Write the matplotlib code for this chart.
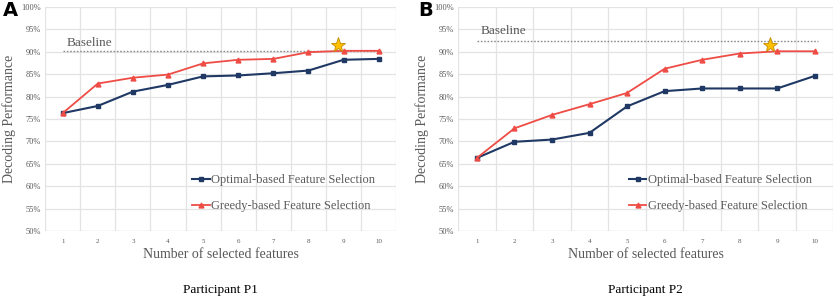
import matplotlib.pyplot as plt
import numpy as np

# data
n_features = [1, 2, 3, 4, 5, 6, 7, 8, 9, 10]

p1_optimal = [76.3, 77.9, 81.1, 82.6, 84.5, 84.7, 85.2, 85.8, 88.2, 88.4]
p1_greedy = [76.3, 82.9, 84.2, 84.9, 87.4, 88.2, 88.4, 89.9, 90.2, 90.2]
p1_baseline = 90.2
p1_star = (8.83, 91.4)

p2_optimal = [66.3, 69.9, 70.4, 71.9, 77.8, 81.2, 81.8, 81.8, 81.8, 84.6]
p2_greedy = [66.3, 72.9, 75.9, 78.3, 80.8, 86.2, 88.2, 89.6, 90.1, 90.1]
p2_baseline = 92.5
p2_star = (8.8, 91.6)

y_ticks = [50, 55, 60, 65, 70, 75, 80, 85, 90, 95, 100]

NAVY = "#1f3864"
RED = "#ee4c45"
SERIF = "Liberation Serif"

plt.rcParams["font.family"] = SERIF

fig = plt.figure(figsize=(8.36, 3.0), dpi=100)

panels = [
    ("Participant P1", [0.054, 0.23, 0.42, 0.747], p1_optimal, p1_greedy,
     p1_baseline, p1_star, (1.1, 92.0)),
    ("Participant P2", [0.548, 0.23, 0.449, 0.747], p2_optimal, p2_greedy,
     p2_baseline, p2_star, (1.1, 94.6)),
]

for title, rect, opt, greedy, base, star, base_txt in panels:
    ax = fig.add_axes(rect)
    ax.set_xlim(0.5, 10.5)
    ax.set_ylim(50, 100)

    # excel-like gridlines at category boundaries
    for xb in np.arange(0.5, 11, 1.0):
        ax.axvline(xb, color="#e3e3e3", lw=0.9, zorder=0)
    for yt in y_ticks[1:]:
        ax.axhline(yt, color="#e3e3e3", lw=0.9, zorder=0)
    for s in ax.spines.values():
        s.set_visible(False)
    ax.axhline(50, color="#d9d9d9", lw=1.0, zorder=0)

    ax.plot([1, 10.1], [base, base], color="#8c8c8c", lw=1.0, ls=(0, (1.2, 1.2)), zorder=1)
    ax.text(base_txt[0], base_txt[1], "Baseline", fontsize=9.5, color="#595959",
            ha="left", va="center")

    ax.plot(n_features, opt, color=NAVY, lw=1.5, marker="s", ms=3.5,
            label="Optimal-based Feature Selection", zorder=3)
    ax.plot(n_features, greedy, color=RED, lw=1.3, marker="^", ms=3.5,
            label="Greedy-based Feature Selection", zorder=3)
    ax.plot(star[0], star[1], marker="*", ms=11, color="#ffc000",
            markeredgecolor="#c08a00", markeredgewidth=0.6, zorder=4)

    ax.set_xticks(n_features)
    ax.set_xticklabels([str(v) for v in n_features], fontsize=5, color="#595959")
    ax.set_yticks(y_ticks)
    ax.set_yticklabels([f"{v}%" for v in y_ticks], fontsize=6, color="#595959")
    ax.tick_params(length=0, pad=6)
    ax.tick_params(axis="y", pad=3)

    ax.set_xlabel("Number of selected features", fontsize=10, color="#595959", labelpad=3)
    ax.set_ylabel("Decoding Performance", fontsize=10, color="#595959", labelpad=4)

    leg = ax.legend(loc="lower right", bbox_to_anchor=(0.965, 0.045), frameon=False,
                    fontsize=9, labelspacing=1.1, handlelength=1.4, handletextpad=0.1,
                    borderaxespad=0.3)
    for t in leg.get_texts():
        t.set_color("#595959")

    ax.text(0.5, -0.263, title, transform=ax.transAxes, ha="center", va="center",
            fontsize=9.5, color="black")

fig.text(0.003, 0.965, "A", fontsize=14, fontweight="bold", family="DejaVu Sans",
         ha="left", va="center")
fig.text(0.5, 0.965, "B", fontsize=14, fontweight="bold", family="DejaVu Sans",
         ha="left", va="center")

fig.savefig("out.png", dpi=100)
